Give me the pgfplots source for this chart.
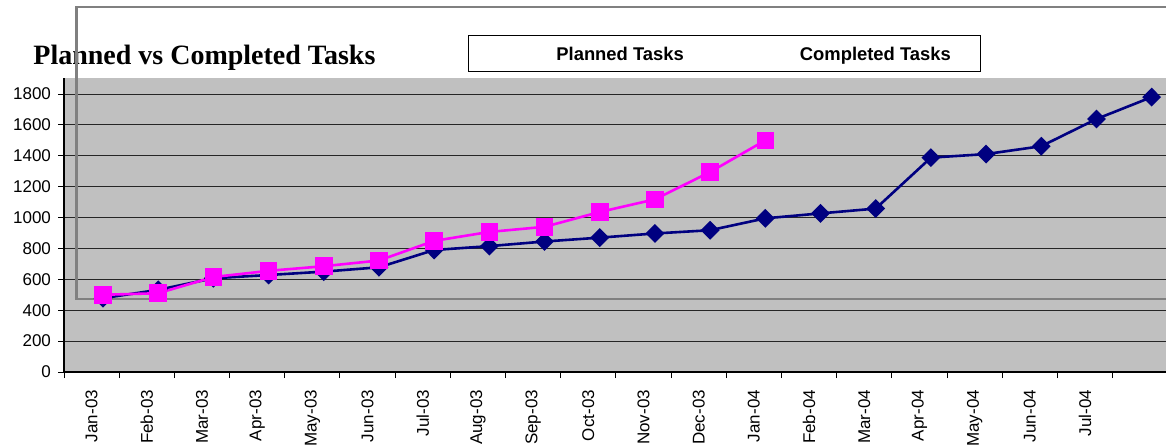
\documentclass[border=0pt]{standalone}
\usepackage{pgfplots}
\pgfplotsset{compat=1.18}
\usepackage{fontspec}
\setmainfont{Liberation Sans}
\newfontfamily\titlefont{Liberation Serif}
\definecolor{plotgray}{HTML}{C0C0C0}
\definecolor{navyc}{HTML}{000080}
\definecolor{magc}{HTML}{FF00FF}
\definecolor{framegray}{HTML}{808080}
\begin{document}
\begin{tikzpicture}
\useasboundingbox (0,0) rectangle (583pt,-222pt);
\node[anchor=base west, font=\titlefont\bfseries\fontsize{14}{16}\selectfont, inner sep=0pt] at (16.5pt,-32.5pt) {Planned vs Completed Tasks};
\begin{axis}[
 at={(32pt,-186pt)}, anchor=south west, scale only axis, width=551pt, height=147pt,
 xmin=-0.707, xmax=19.26, ymin=0, ymax=1903.6,
 axis background/.style={fill=plotgray},
 axis x line*=bottom, axis y line*=left,
 axis line style={-, black, line width=0.6pt},
 ytick={0,200,...,1800},
 xtick={-0.207,0.793,...,17.9},
 xticklabels={Jan-03,Feb-03,Mar-03,Apr-03,May-03,Jun-03,Jul-03,Aug-03,Sep-03,Oct-03,Nov-03,Dec-03,Jan-04,Feb-04,Mar-04,Apr-04,May-04,Jun-04,Jul-04},
 minor xtick={-0.707,0.293,...,19},
 tick align=outside, major tick length=3pt, minor tick length=3pt,
 major x tick style={draw=none},
 tick style={black, line width=0.5pt},
 ymajorgrids, major grid style={black!85, line width=0.5pt},
 xticklabel shift=2.5pt,
 x tick label style={rotate=90, anchor=east, font=\fontsize{8.5}{10}\selectfont},
 y tick label style={font=\fontsize{8.5}{10}\selectfont},
 /pgf/number format/assume math mode=true,
 /pgf/number format/1000 sep={},
 clip=false,
 legend columns=2, reverse legend,
 legend style={at={(0.3666,1.1463)}, anchor=north west, draw=black, fill=white,
   inner xsep=0pt, inner ysep=4pt, column sep=0pt,
   nodes={inner sep=0pt, text height=8.5pt, text depth=1.75pt, font=\bfseries\fontsize{9.2}{10}\selectfont}},
 legend image code/.code={\pgfpathrectangle{\pgfpoint{0pt}{-1pt}}{\pgfpoint{44pt}{2pt}}\pgfusepath{use as bounding box}},
]
\draw[framegray, line width=1.1pt] (rel axis cs:1.03,1.2415) -- (rel axis cs:0.01134,1.2415) -- (rel axis cs:0.01134,0.2483) -- (rel axis cs:1.03,0.2483);
\addplot[navyc, line width=1.3pt, mark=diamond*, mark size=3.8pt, mark options={solid, fill=navyc, xscale=1.33}] coordinates {
(0,478) (1,532) (2,607) (3,628) (4,650) (5,678) (6,790) (7,815) (8,845) (9,870) (10,897) (11,918) (12,995) (13,1027) (14,1058) (15,1388) (16,1411) (17,1462) (18,1638) (19,1780)};
\addlegendentry{Completed Tasks\kern15pt}
\addplot[magc, line width=1.3pt, mark=square*, mark size=3.75pt, mark options={solid, fill=magc}] coordinates {
(0,500) (1,510) (2,615) (3,655) (4,685) (5,722) (6,849) (7,907) (8,940) (9,1036) (10,1118) (11,1295) (12,1500)};
\addlegendentry{Planned Tasks\kern14pt}
\end{axis}
\end{tikzpicture}
\end{document}
